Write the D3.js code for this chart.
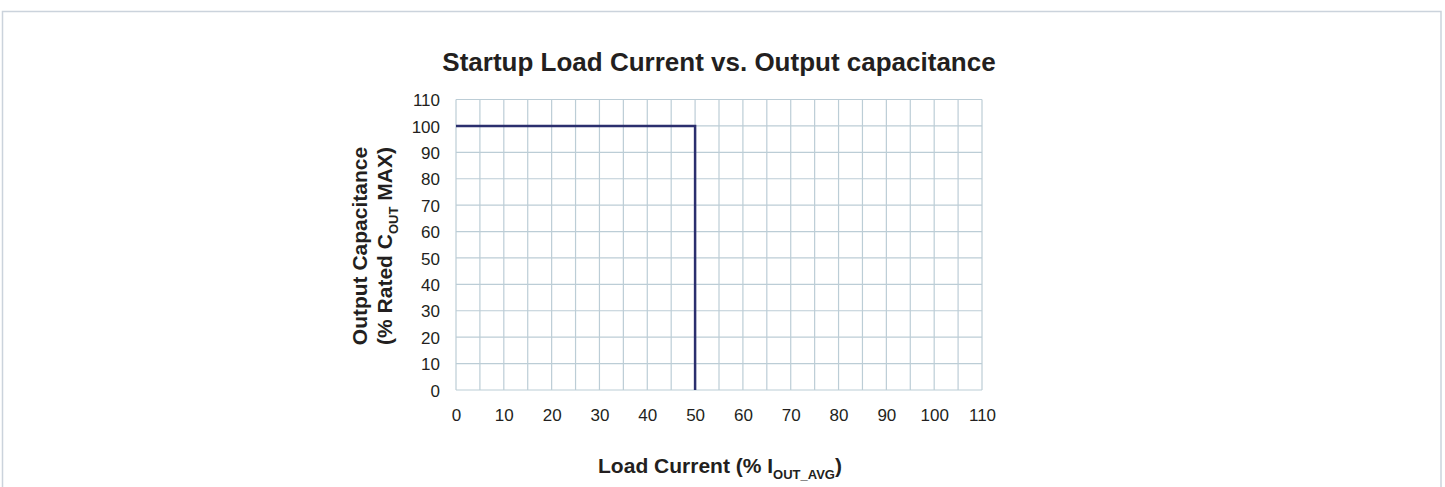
<!DOCTYPE html>
<html>
<head>
<meta charset="utf-8">
<script src="https://cdn.jsdelivr.net/npm/d3@7"></script>
<style>
  body { margin: 0; background: #fff; }
  text { font-family: "Liberation Sans", Arial, sans-serif; fill: #231f20; }
</style>
</head>
<body>
<div class="chart"></div>
<script>
// Curve: max output capacitance allowed vs. load current at startup
var loadCurrent = [0, 50, 50];
var capacitance = [100, 100, 0];

// Tick labels on both axes
var xTicks = [0, 10, 20, 30, 40, 50, 60, 70, 80, 90, 100, 110];
var yTicks = [0, 10, 20, 30, 40, 50, 60, 70, 80, 90, 100, 110];
// vertical grid every 5 %
var xGrid = [0, 5, 10, 15, 20, 25, 30, 35, 40, 45, 50, 55, 60, 65, 70, 75, 80, 85, 90, 95, 100, 105, 110];

var width = 1445;
var height = 487;

var svg = d3.select(".chart")
            .append("svg")
              .attr("width", width)
              .attr("height", height);

// outer frame (bottom edge runs off the picture)
svg.append("rect")
  .attr("x", 2.5)
  .attr("y", 11.5)
  .attr("width", 1438.5)
  .attr("height", 500)
  .attr("fill", "none")
  .attr("stroke", "#cbd3dc")
  .attr("stroke-width", 1.5);

var xScale = d3.scaleLinear()
               .domain([0, 110])
               .range([456, 982]);

var yScale = d3.scaleLinear()
               .domain([0, 110])
               .range([390, 99.5]);

var gridColor = "#bccdd6";

// grid lines
svg.selectAll(".vgrid")
  .data(xGrid)
  .enter()
  .append("line")
  .attr("class", "vgrid")
  .attr("x1", function(d) { return xScale(d); })
  .attr("x2", function(d) { return xScale(d); })
  .attr("y1", yScale(0))
  .attr("y2", yScale(110))
  .attr("stroke", gridColor)
  .attr("stroke-width", 1.2);

svg.selectAll(".hgrid")
  .data(yTicks)
  .enter()
  .append("line")
  .attr("class", "hgrid")
  .attr("x1", xScale(0))
  .attr("x2", xScale(110))
  .attr("y1", function(d) { return yScale(d); })
  .attr("y2", function(d) { return yScale(d); })
  .attr("stroke", gridColor)
  .attr("stroke-width", 1.2);

// axes: labels only, the grid already draws the frame
var xAxis = d3.axisBottom(xScale).tickValues(xTicks).tickSize(0).tickPadding(0);
var yAxis = d3.axisLeft(yScale).tickValues(yTicks).tickSize(0).tickPadding(0);

var gx = svg.append("g")
  .attr("transform", "translate(0," + 421 + ")")
  .call(xAxis);
gx.select(".domain").remove();
gx.selectAll("text")
  .attr("dy", 0)
  .attr("font-size", "17px")
  .attr("font-family", "Liberation Sans, Arial, sans-serif")
  .attr("fill", "#231f20");

var gy = svg.append("g")
  .attr("transform", "translate(" + 440 + ",0)")
  .call(yAxis);
gy.select(".domain").remove();
gy.selectAll("text")
  .attr("dy", "0.36em")
  .attr("font-size", "17px")
  .attr("font-family", "Liberation Sans, Arial, sans-serif")
  .attr("fill", "#231f20");

// the curve
var line = d3.line()
  .x(function(d) { return xScale(d[0]); })
  .y(function(d) { return yScale(d[1]); });

svg.append("path")
  .datum(d3.zip(loadCurrent, capacitance))
  .attr("d", line)
  .attr("fill", "none")
  .attr("stroke", "#2b2f6e")
  .attr("stroke-width", 2.5);

// title
svg.append("text")
  .attr("x", 719)
  .attr("y", 71)
  .attr("text-anchor", "middle")
  .attr("font-size", "26px")
  .attr("font-weight", "bold")
  .text("Startup Load Current vs. Output capacitance");

// x axis title
var xt = svg.append("text")
  .attr("x", 720)
  .attr("y", 473)
  .attr("text-anchor", "middle")
  .attr("font-size", "21px")
  .attr("font-weight", "bold");
xt.append("tspan").text("Load Current (% I");
xt.append("tspan").attr("font-size", "13px").attr("dy", 6).text("OUT_AVG");
xt.append("tspan").attr("dy", -6).text(")");

// y axis title, two lines
var yt = svg.append("g")
  .attr("transform", "translate(367,246) rotate(-90)");
yt.append("text")
  .attr("text-anchor", "middle")
  .attr("font-size", "21px")
  .attr("font-weight", "bold")
  .text("Output Capacitance");
var yt2 = yt.append("text")
  .attr("y", 25)
  .attr("text-anchor", "middle")
  .attr("font-size", "21px")
  .attr("font-weight", "bold");
yt2.append("tspan").text("(% Rated C");
yt2.append("tspan").attr("font-size", "13px").attr("dy", 6).text("OUT");
yt2.append("tspan").attr("dy", -6).text(" MAX)");
</script>
</body>
</html>
